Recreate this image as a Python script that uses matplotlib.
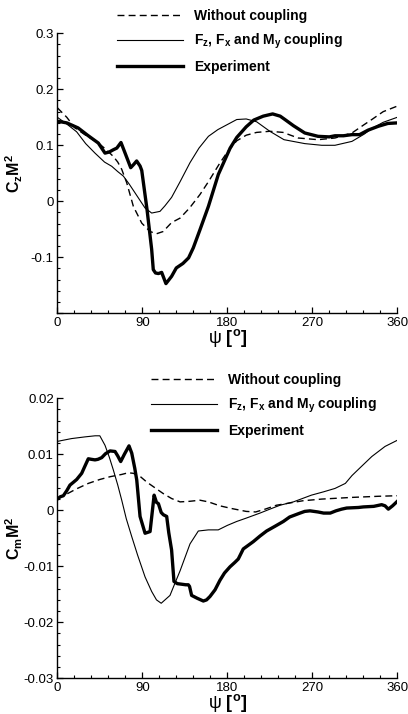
import matplotlib
matplotlib.use("Agg")
from matplotlib import pyplot as plt
from matplotlib.ticker import MultipleLocator, FuncFormatter

plt.rcParams['font.family'] = 'Liberation Sans'
plt.rcParams['mathtext.fontset'] = 'custom'
plt.rcParams['mathtext.rm'] = 'Liberation Sans'
plt.rcParams['mathtext.it'] = 'Liberation Sans'
plt.rcParams['mathtext.bf'] = 'Liberation Sans:bold'

# ---- C_z M^2 (top panel) ----
psi_wo_top = [0, 10, 18.7, 30, 43.4, 52, 59.3, 64, 68.2, 73.5, 80.5, 89.4, 98.2, 105, 112,
              121, 130, 140, 151, 160, 172, 180, 190, 200, 211, 225, 239, 255, 276, 294,
              312, 325, 333, 345, 360]
cz_wo = [0.167, 0.150, 0.131, 0.118, 0.104, 0.092, 0.080, 0.070, 0.057, 0.033, -0.009, -0.039,
         -0.054, -0.058, -0.054, -0.038, -0.030, -0.012, 0.012, 0.035, 0.068, 0.088, 0.108,
         0.118, 0.123, 0.125, 0.123, 0.113, 0.110, 0.113, 0.122, 0.137, 0.146, 0.160, 0.170]

psi_fx_top = [0, 10, 20.5, 30, 39.9, 50, 57.6, 64, 69.9, 76, 82.3, 87, 92.9, 99.9, 108.7, 114,
              121, 130, 140.5, 150, 160, 170, 180, 190, 200, 211, 225, 240, 262, 280, 294,
              312, 325, 333, 345, 360]
cz_fx = [0.150, 0.138, 0.124, 0.103, 0.086, 0.070, 0.0625, 0.053, 0.045, 0.031, 0.015, 0.003,
         -0.012, -0.021, -0.018, -0.008, 0.007, 0.035, 0.069, 0.095, 0.116, 0.128, 0.137, 0.146,
         0.147, 0.142, 0.125, 0.110, 0.103, 0.100, 0.100, 0.107, 0.120, 0.130, 0.141, 0.150]

psi_exp_top = [0, 10, 22, 32, 43.4, 50.5, 55, 59.3, 63, 67.4, 72, 77.7, 81, 84, 87.6, 89.4,
               95, 99.9, 101.6, 104, 107, 110.5, 115, 121, 126, 133, 139, 144, 151, 160,
               170.5, 183, 190, 200, 208, 218, 228, 236, 241, 250, 262, 276, 288, 294, 303,
               312, 320, 329, 340, 350, 360]
cz_exp = [0.143, 0.140, 0.131, 0.118, 0.104, 0.086, 0.088, 0.092, 0.095, 0.105, 0.085, 0.060,
          0.066, 0.072, 0.063, 0.055, -0.015, -0.086, -0.122, -0.128, -0.129, -0.127, -0.147,
          -0.134, -0.119, -0.111, -0.101, -0.083, -0.051, -0.009, 0.048, 0.095, 0.114, 0.133,
          0.145, 0.152, 0.156, 0.152, 0.146, 0.135, 0.122, 0.116, 0.115, 0.117, 0.117, 0.119,
          0.119, 0.127, 0.134, 0.139, 0.140]

# ---- C_m M^2 (bottom panel) ----
psi_wo_bot = [0, 10, 20, 32.8, 45, 56, 68.2, 75, 80.5, 88, 95, 103.5, 112, 121, 130, 140, 151,
              160, 172, 185, 200, 210, 220, 232, 246, 260, 280, 312, 340, 360]
cm_wo = [0.0021, 0.0029, 0.0038, 0.0048, 0.0055, 0.0060, 0.0064, 0.0067, 0.0066, 0.0060,
         0.0050, 0.0040, 0.0030, 0.0021, 0.0015, 0.0016, 0.0018, 0.0015, 0.0008, 0.0003,
         -0.0002, -0.0003, 0.0002, 0.0009, 0.0013, 0.0017, 0.0020, 0.0023, 0.0025, 0.0026]

psi_fx_bot = [0, 15, 29, 40, 45, 50.5, 55, 59.3, 64, 68.2, 73, 78.8, 85, 92.9, 99.9, 105, 110,
              119.3, 124.6, 130, 140.5, 149.3, 160, 170.4, 180, 189.9, 200, 214.6, 225, 235.8,
              250, 269, 282, 294, 305, 312, 320, 333, 347, 360]
cm_fx = [0.0123, 0.0128, 0.0131, 0.0133, 0.0133, 0.0116, 0.0095, 0.0072, 0.0045, 0.0018,
         -0.0015, -0.0047, -0.0080, -0.0119, -0.0145, -0.0160, -0.0166, -0.0152, -0.0130,
         -0.0108, -0.0060, -0.0037, -0.0035, -0.0035, -0.0027, -0.0020, -0.0014, -0.0005,
         0.0002, 0.0009, 0.0015, 0.0027, 0.0033, 0.0039, 0.0048, 0.0062, 0.0075, 0.0096,
         0.0114, 0.0125]

psi_exp_bot = [0, 3, 6.4, 10, 13.4, 17, 20.5, 25.8, 29, 32.8, 36, 39.9, 43, 47, 51, 55.8, 61.1,
               64, 67.1, 71, 75.9, 78.8, 82, 84.1, 87.6, 92.9, 98.2, 102.5, 105, 107, 110, 112.3,
               115.8, 118, 121, 123.5, 127, 131.6, 136, 138.7, 140, 142.2, 148, 154.6, 158,
               161.6, 167, 172.2, 177, 182.8, 188, 191.6, 196.9, 207.5, 214.6, 221.6, 230,
               239.3, 246, 257, 262, 267.5, 276, 282, 289, 295, 301, 306.4, 318.8, 324, 335,
               343.4, 347, 350.5, 355, 360]
cm_exp = [0.0020, 0.0024, 0.0026, 0.0035, 0.0045, 0.0050, 0.0055, 0.0066, 0.0078, 0.0092,
          0.0091, 0.0090, 0.0091, 0.0094, 0.0101, 0.0106, 0.0105, 0.0097, 0.0087, 0.0100,
          0.0115, 0.0102, 0.0075, 0.0054, -0.0011, -0.0041, -0.0038, 0.0027, 0.0014, 0.0012,
          -0.0004, -0.0008, -0.0011, -0.0040, -0.0071, -0.0127, -0.0131, -0.0132, -0.0133,
          -0.0133, -0.0136, -0.0152, -0.0157, -0.0162, -0.0160, -0.0154, -0.0142, -0.0125,
          -0.0112, -0.0101, -0.0093, -0.0087, -0.0069, -0.0056, -0.0046, -0.0037, -0.0029,
          -0.0020, -0.0012, -0.0005, -0.0002, -0.0001, -0.0003, -0.0005, -0.0005, -0.0001,
          0.0002, 0.0004, 0.0005, 0.0006, 0.0007, 0.0010, 0.0008, 0.0002, 0.0008, 0.0016]

labels = ['Without coupling',
          r'F$_\mathbf{z}$, F$_\mathbf{x}$ and M$_\mathbf{y}$ coupling',
          'Experiment']


def style_axes(ax, ylim, ymajor, yminor, hide_label=None):
    ax.set_xlim(0, 360)
    ax.set_ylim(*ylim)
    ax.xaxis.set_major_locator(MultipleLocator(90))
    ax.xaxis.set_minor_locator(MultipleLocator(18))
    ax.yaxis.set_major_locator(MultipleLocator(ymajor))
    ax.yaxis.set_minor_locator(MultipleLocator(yminor))

    def fmt(v, pos):
        v = round(v, 5)
        if hide_label is not None and abs(v - hide_label) < 1e-9:
            return ''
        if abs(v) < 1e-9:
            return '0'
        return f'{v:g}'
    ax.yaxis.set_major_formatter(FuncFormatter(fmt))
    for side in ['top', 'right']:
        ax.spines[side].set_visible(False)
    for side in ['left', 'bottom']:
        ax.spines[side].set_linewidth(1.0)
    ax.tick_params(which='both', direction='in', top=False, right=False, labelsize=9.5, pad=2.5)
    ax.tick_params(which='major', length=4.5, width=0.9)
    ax.tick_params(which='minor', length=2.5, width=0.8)
    ax.set_xlabel(r'$\psi$ [$^\mathbf{o}$]', fontsize=13, fontweight='bold', va='top')
    ax.xaxis.set_label_coords(0.5, -0.05)


fig = plt.figure(figsize=(4.08, 7.14), dpi=100)
ax1 = fig.add_axes([0.1405, 0.5612, 0.8333, 0.3922])
ax2 = fig.add_axes([0.1405, 0.050, 0.8333, 0.3922])

l1, = ax1.plot(psi_wo_top, cz_wo, color='black', lw=1.0, dashes=(5, 3))
l2, = ax1.plot(psi_fx_top, cz_fx, color='black', lw=0.8)
l3, = ax1.plot(psi_exp_top, cz_exp, color='black', lw=2.4)
style_axes(ax1, (-0.2, 0.3), 0.1, 0.02, hide_label=-0.2)
ax1.set_ylabel(r'C$_\mathbf{z}$M$^\mathbf{2}$', fontsize=11.5, fontweight='bold')
ax1.yaxis.set_label_coords(-0.095, 0.5)
ax1.legend([l1, l2, l3], labels, loc='upper left', bbox_to_anchor=(117 / 408, 1 - 9 / 714),
           bbox_transform=fig.transFigure, frameon=False, borderpad=0, borderaxespad=0,
           handlelength=4.75, handletextpad=0.8, labelspacing=0.62,
           prop={'weight': 'bold', 'size': 10})

m1, = ax2.plot(psi_wo_bot, cm_wo, color='black', lw=1.0, dashes=(5, 3))
m2, = ax2.plot(psi_fx_bot, cm_fx, color='black', lw=0.8)
m3, = ax2.plot(psi_exp_bot, cm_exp, color='black', lw=2.4)
style_axes(ax2, (-0.03, 0.02), 0.01, 0.002)
ax2.set_ylabel(r'C$_\mathbf{m}$M$^\mathbf{2}$', fontsize=11.5, fontweight='bold')
ax2.yaxis.set_label_coords(-0.095, 0.5)
ax2.legend([m1, m2, m3], labels, loc='upper left', bbox_to_anchor=(151 / 408, 1 - 373 / 714),
           bbox_transform=fig.transFigure, frameon=False, borderpad=0, borderaxespad=0,
           handlelength=4.75, handletextpad=0.8, labelspacing=0.62,
           prop={'weight': 'bold', 'size': 10})

fig.savefig('out.png', dpi=100)
